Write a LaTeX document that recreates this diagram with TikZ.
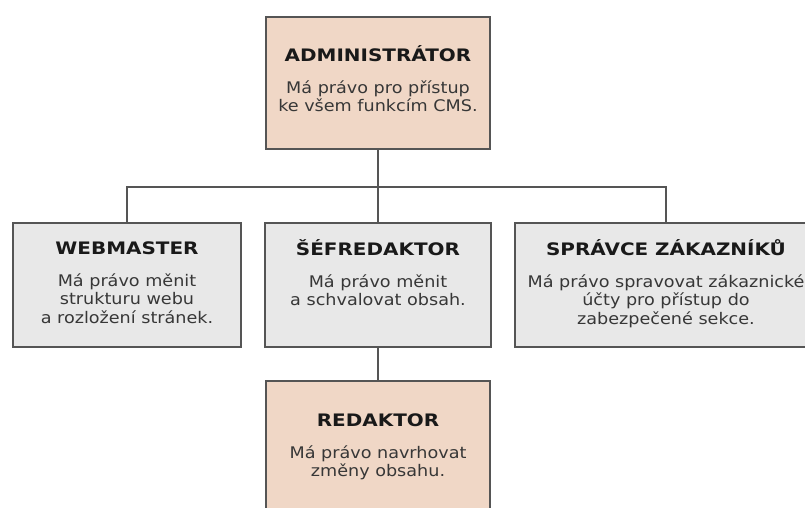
\documentclass[tikz,border=0pt]{standalone}
\usepackage{fontspec}
\setmainfont[FakeStretch=1.1]{DejaVu Sans}
\newfontfamily\rolefont[FakeStretch=1.16]{DejaVu Sans}
\usetikzlibrary{positioning}
\definecolor{rolepeach}{RGB}{240,215,198}
\definecolor{rolegrey}{RGB}{232,232,232}
\definecolor{rolebord}{RGB}{85,85,85}
\definecolor{roletext}{RGB}{55,55,55}

\begin{document}
\begin{tikzpicture}[x=1pt, y=-1pt,
    role/.style={draw=rolebord, line width=1.6pt, inner sep=0pt, minimum height=124pt},
    title/.style={font=\rolefont\bfseries\fontsize{17.2}{18}\selectfont, text=black!90, inner sep=0pt, text height=12.5pt, text depth=0pt},
    desc/.style={font=\fontsize{16}{18.8}\selectfont, text=roletext, align=center, inner sep=0pt},
    link/.style={draw=rolebord, line width=1.6pt}]
    \useasboundingbox (0,0) rectangle (805,507);
    \clip (0,0) rectangle (805,507);

    % boxes
    \node[role, fill=rolepeach, minimum width=224pt, minimum height=132pt] (admin) at (378,83) {};
    \node[role, fill=rolegrey, minimum width=228pt] (web) at (127,285) {};
    \node[role, fill=rolegrey, minimum width=226pt] (sef) at (378,285) {};
    \node[role, fill=rolegrey, minimum width=302pt] (spr) at (666,285) {};
    \node[role, fill=rolepeach, minimum width=224pt, minimum height=160pt] (red) at (378,461) {};

    % texts
    \node[title] (adminT) at ([yshift=-39pt]admin.north) {ADMINISTRÁTOR};
    \node[desc, below=18.5pt of adminT] (adminD) {Má právo pro přístup\\ke všem funkcím CMS.};
    \node[title] (webT) at ([yshift=-26pt]web.north) {WEBMASTER};
    \node[desc, below=18.5pt of webT] (webD) {Má právo měnit\\strukturu webu\\a rozložení stránek.};
    \node[title] (sefT) at ([yshift=-27pt]sef.north) {ŠÉFREDAKTOR};
    \node[desc, below=18.5pt of sefT] (sefD) {Má právo měnit\\a schvalovat obsah.};
    \node[title] (sprT) at ([yshift=-27pt]spr.north) {SPRÁVCE ZÁKAZNÍKŮ};
    \node[desc, below=18.5pt of sprT] (sprD) {Má právo spravovat zákaznické\\účty pro přístup do\\zabezpečené sekce.};
    \node[title] (redT) at ([yshift=-40pt]red.north) {REDAKTOR};
    \node[desc, below=18.5pt of redT] (redD) {Má právo navrhovat\\změny obsahu.};

    % connectors
    \draw[link] (admin.south) -- ++(0,37) coordinate (bus);
    \draw[link] (web.north) |- (bus) -| (spr.north);
    \draw[link] (bus) -- (sef.north);
    \draw[link] (sef.south) -- (red.north);
\end{tikzpicture}
\end{document}
